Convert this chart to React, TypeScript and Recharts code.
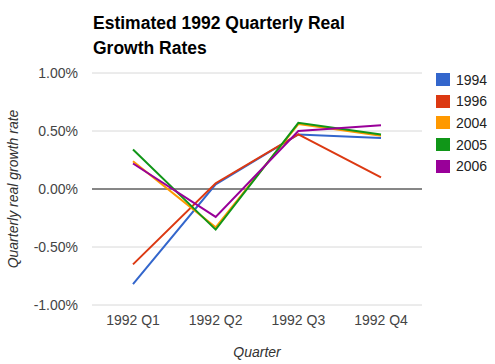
import { CartesianGrid, Line, LineChart, ReferenceLine, XAxis, YAxis } from "recharts";

const quarters = ["1992 Q1", "1992 Q2", "1992 Q3", "1992 Q4"];
const years = ["1994", "1996", "2004", "2005", "2006"];
const colors = ["#3366cc", "#dc3912", "#ff9900", "#109618", "#990099"];

// quarterly real growth, in percent
const g1994 = [-0.82, 0.04, 0.47, 0.44];
const g1996 = [-0.65, 0.05, 0.47, 0.1];
const g2004 = [0.24, -0.33, 0.56, 0.46];
const g2005 = [0.34, -0.35, 0.57, 0.47];
const g2006 = [0.22, -0.24, 0.5, 0.55];

const yTicks = [-1, -0.5, 0, 0.5, 1];

const seriesValues = [g1994, g1996, g2004, g2005, g2006];
const data = quarters.map((q, i) => {
  const row: Record<string, string | number> = { quarter: q };
  years.forEach((y, k) => {
    row[y] = seriesValues[k][i];
  });
  return row;
});

const FONT = "Arial, 'Liberation Sans', sans-serif";
const tickStyle = { fontSize: 14, fill: "#444", fontFamily: FONT };

export default function App() {
  return (
    <div
      style={{
        position: "absolute",
        left: 0,
        top: 0,
        width: 495,
        height: 364,
        background: "#fff",
        fontFamily: FONT,
      }}
    >
      <div
        style={{
          position: "absolute",
          left: 93,
          top: 11,
          fontSize: 17.5,
          fontWeight: 700,
          lineHeight: "25px",
          color: "#000",
        }}
      >
        Estimated 1992 Quarterly Real
        <br />
        Growth Rates
      </div>

      <LineChart
        width={495}
        height={364}
        data={data}
        margin={{ top: 73, right: 73, bottom: 0, left: 0 }}
      >
        <CartesianGrid vertical={false} stroke="#d8d8d8" />
        <XAxis
          dataKey="quarter"
          height={59}
          axisLine={false}
          tickLine={false}
          tickSize={6}
          tickMargin={4}
          padding={{ left: 41, right: 41 }}
          tick={tickStyle}
          label={{
            value: "Quarter",
            position: "insideBottom",
            offset: 7,
            style: { fontSize: 14, fontStyle: "italic", fill: "#333", fontFamily: FONT },
          }}
        />
        <YAxis
          width={92}
          domain={[-1, 1]}
          ticks={yTicks}
          axisLine={false}
          tickLine={false}
          tickSize={6}
          tickMargin={8}
          tick={tickStyle}
          tickFormatter={(v: number) => `${v.toFixed(2)}%`}
          label={{
            value: "Quarterly real growth rate",
            angle: -90,
            position: "insideLeft",
            offset: 13,
            style: {
              fontSize: 14,
              fontStyle: "italic",
              fill: "#333",
              fontFamily: FONT,
              textAnchor: "middle",
            },
          }}
        />
        <ReferenceLine y={0} stroke="#222" strokeWidth={1} />
        {years.map((y, k) => (
          <Line
            key={y}
            dataKey={y}
            type="linear"
            stroke={colors[k]}
            strokeWidth={2}
            dot={false}
            activeDot={false}
            isAnimationActive={false}
          />
        ))}
      </LineChart>

      <div style={{ position: "absolute", left: 436, top: 69 }}>
        {years.map((y, k) => (
          <div
            key={y}
            style={{ display: "flex", alignItems: "center", height: 21.6 }}
          >
            <span
              style={{
                width: 14,
                height: 13,
                background: colors[k],
                display: "inline-block",
                marginRight: 6,
              }}
            />
            <span style={{ fontSize: 14, color: "#222" }}>{y}</span>
          </div>
        ))}
      </div>
    </div>
  );
}
